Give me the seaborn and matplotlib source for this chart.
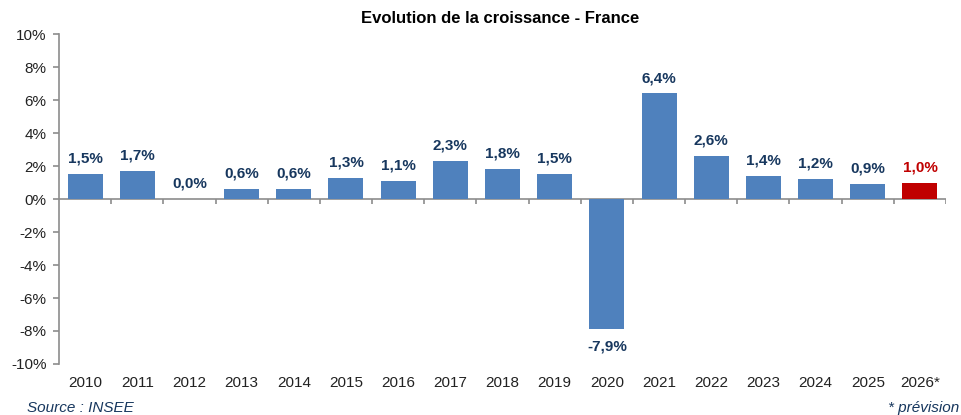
import pandas as pd
import seaborn as sns
import matplotlib.pyplot as plt

# growth data (INSEE), last year is a forecast
years = ["2010", "2011", "2012", "2013", "2014", "2015", "2016", "2017", "2018",
         "2019", "2020", "2021", "2022", "2023", "2024", "2025", "2026*"]
growth = [1.5, 1.7, 0.0, 0.6, 0.6, 1.3, 1.1, 2.3, 1.8, 1.5, -7.9, 6.4, 2.6, 1.4, 1.2, 0.9, 1.0]
forecast = [False] * 16 + [True]

BLUE = "#4F81BD"
RED = "#C00000"
NAVY = "#17375E"
GRAY = "#8C8C8C"

df = pd.DataFrame({"year": years, "growth": growth,
                   "kind": ["prev" if f else "obs" for f in forecast]})

sns.set_theme(style="white")
plt.rcParams["font.family"] = ["Liberation Sans", "DejaVu Sans"]

fig = plt.figure(figsize=(9.62, 4.15), dpi=100)
ax = fig.add_axes([0.0613, 0.1229, 0.9221, 0.7951])

sns.barplot(data=df, x="year", y="growth", hue="kind", order=years,
            palette={"obs": BLUE, "prev": RED}, width=0.67, dodge=False,
            legend=False, saturation=1, linewidth=0, ax=ax)

ax.set_xlim(-0.5, len(years) - 0.5)
ax.set_ylim(-10, 10)
ax.set_yticks(range(-10, 11, 2))
ax.set_yticklabels([f"{v}%" for v in range(-10, 11, 2)])
ax.set_xlabel("")
ax.set_ylabel("")

for s in ["top", "right", "bottom"]:
    ax.spines[s].set_visible(False)
ax.spines["left"].set_color(GRAY)
ax.spines["left"].set_linewidth(1.2)
ax.tick_params(axis="y", length=4, width=1.2, color=GRAY, pad=5, labelsize=11,
               labelcolor="#222222", left=True)
ax.tick_params(axis="x", length=0, pad=9, labelsize=11, labelcolor="#222222")

# zero line with small ticks between categories
ax.axhline(0, color=GRAY, lw=1.2, zorder=0.5)
bounds = [i + 0.5 for i in range(len(years))]
ax.vlines(bounds, -0.3, 0, color=GRAY, lw=1.2, zorder=0.5)

# value labels
bars = sorted([p for p in ax.patches if p.get_width() > 0], key=lambda p: p.get_x())
for p, v, f in zip(bars, growth, forecast):
    xc = p.get_x() + p.get_width() / 2
    txt = f"{v:.1f}%".replace(".", ",")
    if v >= 0:
        ax.annotate(txt, (xc, v), xytext=(0, 6), textcoords="offset points",
                    ha="center", va="bottom", fontsize=11, fontweight="bold",
                    color=RED if f else NAVY)
    else:
        ax.annotate(txt, (xc, v), xytext=(0, -7), textcoords="offset points",
                    ha="center", va="top", fontsize=11, fontweight="bold",
                    color=NAVY)

fig.text(0.52, 0.955, "Evolution de la croissance - France", ha="center", va="center",
         fontsize=12, fontweight="bold", color="black")
fig.text(0.028, 0.018, "Source : INSEE", ha="left", va="center", fontsize=11,
         style="italic", color=NAVY)
fig.text(0.997, 0.018, "* prévision", ha="right", va="center", fontsize=11,
         style="italic", color=NAVY)

fig.savefig("out.png", dpi=100)
